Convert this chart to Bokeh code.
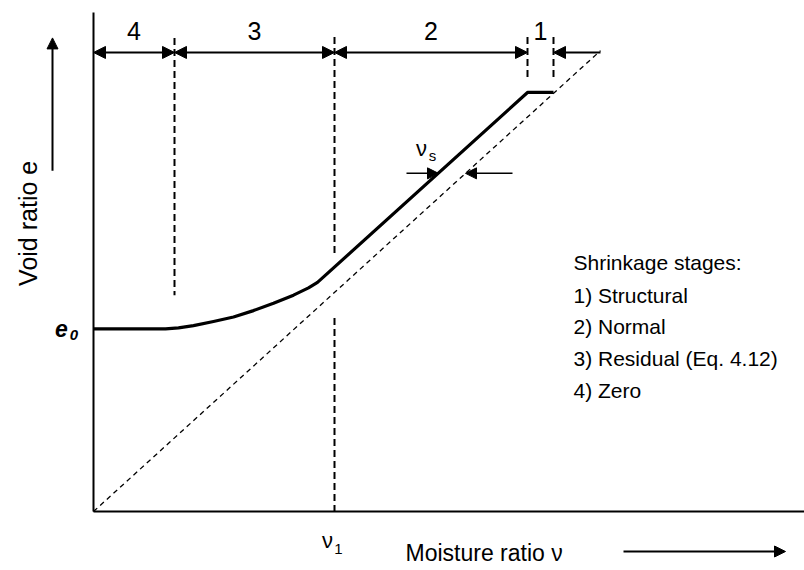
import math
from bokeh.plotting import figure
from bokeh.models import Arrow, NormalHead, Range1d
from bokeh.core.properties import value
from bokeh.embed import file_html
from bokeh.resources import INLINE

# ---------------- data ----------------
# shrinkage curve: moisture ratio nu vs void ratio e
curve_nu = [0.0, 0.72, 0.85, 1.00, 1.20, 1.40, 1.60, 1.80, 2.00, 2.15, 2.24, 4.34, 4.60]
curve_e = [2.01, 2.01, 2.02, 2.045, 2.09, 2.14, 2.21, 2.29, 2.38, 2.46, 2.52, 4.61, 4.61]
# saturation line e = nu
sat_nu = [0.0, 5.07]
sat_e = [0.0, 5.07]
# stage boundaries (moisture ratio)
stage_bounds = [0.0, 0.81, 2.41, 4.34, 4.60]
stage_labels = ["4", "3", "2", "1"]
e0 = 2.01
nu1 = 2.41
nu_s_level = 3.72      # e where nu_s is marked
nu_s_shift = 0.27
legend_lines = ["Shrinkage stages:", "1) Structural", "2) Normal",
                "3) Residual (Eq. 4.12)", "4) Zero"]

FONT = value("Liberation Sans")

p = figure(width=804, height=570, output_backend="svg", toolbar_location=None,
           x_range=Range1d(-0.93, 7.11), y_range=Range1d(-0.649, 5.6216),
           x_axis_type=None, y_axis_type=None, min_border=0)
p.grid.visible = False
p.outline_line_color = None
p.background_fill_color = "white"

# axes drawn as lines
p.line([0, 0], [0, 5.49], line_color="black", line_width=2)
p.line([0, 7.2], [0, 0], line_color="black", line_width=2)

# saturation line
p.line(sat_nu, sat_e, line_color="black", line_width=1.3, line_dash="5 4")

# curve
p.line(curve_nu, curve_e, line_color="black", line_width=3.2, line_join="round")

# vertical dashed stage boundaries
vd = dict(line_color="black", line_width=2, line_dash="7 4")
p.line([stage_bounds[1]] * 2, [5.21, 2.38], **vd)
p.line([nu1] * 2, [5.22, 2.84], **vd)
p.line([nu1] * 2, [2.13, 0.0], **vd)
p.line([stage_bounds[3]] * 2, [5.22, 4.77], **vd)
p.line([stage_bounds[4]] * 2, [5.22, 4.77], **vd)

# stage arrows
arrow_e = 5.05
def head(size=12):
    return NormalHead(size=size, fill_color="black", line_color="black", line_width=1)

for a, b in zip(stage_bounds[:3], stage_bounds[1:4]):
    p.add_layout(Arrow(start=head(), end=head(), x_start=a, y_start=arrow_e,
                       x_end=b, y_end=arrow_e, line_width=2, line_color="black"))
p.add_layout(Arrow(end=head(), x_start=5.07, y_start=arrow_e, x_end=stage_bounds[4],
                   y_end=arrow_e, line_width=2, line_color="black"))

label_x = [(a + b) / 2 for a, b in zip(stage_bounds[:4], stage_bounds[1:5])]
label_x[3] = 4.47
p.text(x=label_x, y=[5.29] * 4, text=stage_labels, text_font=FONT,
       text_font_size="25px", text_align="center", text_baseline="middle")

# nu_s arrows
p.add_layout(Arrow(end=head(11), x_start=3.13, y_start=nu_s_level,
                   x_end=nu_s_level - nu_s_shift, y_end=nu_s_level,
                   line_width=1.5, line_color="black"))
p.add_layout(Arrow(end=head(11), x_start=4.19, y_start=nu_s_level,
                   x_end=nu_s_level, y_end=nu_s_level,
                   line_width=1.5, line_color="black"))
p.text(x=[3.28], y=[3.99], text=["ν"], text_font=FONT, text_font_size="22px",
       text_align="center", text_baseline="middle")
p.text(x=[3.39], y=[3.92], text=["s"], text_font=FONT, text_font_size="15px",
       text_align="center", text_baseline="middle")

# axis direction arrows
p.add_layout(Arrow(end=head(11), x_start=-0.41, y_start=3.75, x_end=-0.41, y_end=5.21,
                   line_width=2, line_color="black"))
p.add_layout(Arrow(end=head(11), x_start=5.30, y_start=-0.44, x_end=6.92, y_end=-0.44,
                   line_width=2, line_color="black"))

# axis titles
p.text(x=[-0.66], y=[3.17], text=["Void ratio e"], angle=math.pi / 2,
       text_font=FONT, text_font_size="25px", text_align="center",
       text_baseline="middle")
p.text(x=[3.12], y=[-0.46], text=["Moisture ratio ν"], text_font=FONT,
       text_font_size="23px", text_align="left", text_baseline="middle")

# e0 label
p.text(x=[-0.32], y=[e0], text=["e"], text_font=FONT, text_font_size="23px",
       text_font_style="bold italic", text_align="center", text_baseline="middle")
p.text(x=[-0.195], y=[1.94], text=["0"], text_font=FONT, text_font_size="15px",
       text_font_style="bold italic", text_align="center", text_baseline="middle")

# nu1 label
p.text(x=[nu1 - 0.07], y=[-0.32], text=["ν"], text_font=FONT, text_font_size="22px",
       text_align="center", text_baseline="middle")
p.text(x=[nu1 + 0.04], y=[-0.41], text=["1"], text_font=FONT, text_font_size="15px",
       text_align="center", text_baseline="middle")

# legend text
leg_y = [2.74, 2.376, 2.035, 1.683, 1.331]
p.text(x=[4.80] * len(legend_lines), y=leg_y, text=legend_lines, text_font=FONT,
       text_font_size="21px", text_align="left", text_baseline="middle")

open("out.html", "w").write(file_html(p, INLINE))
